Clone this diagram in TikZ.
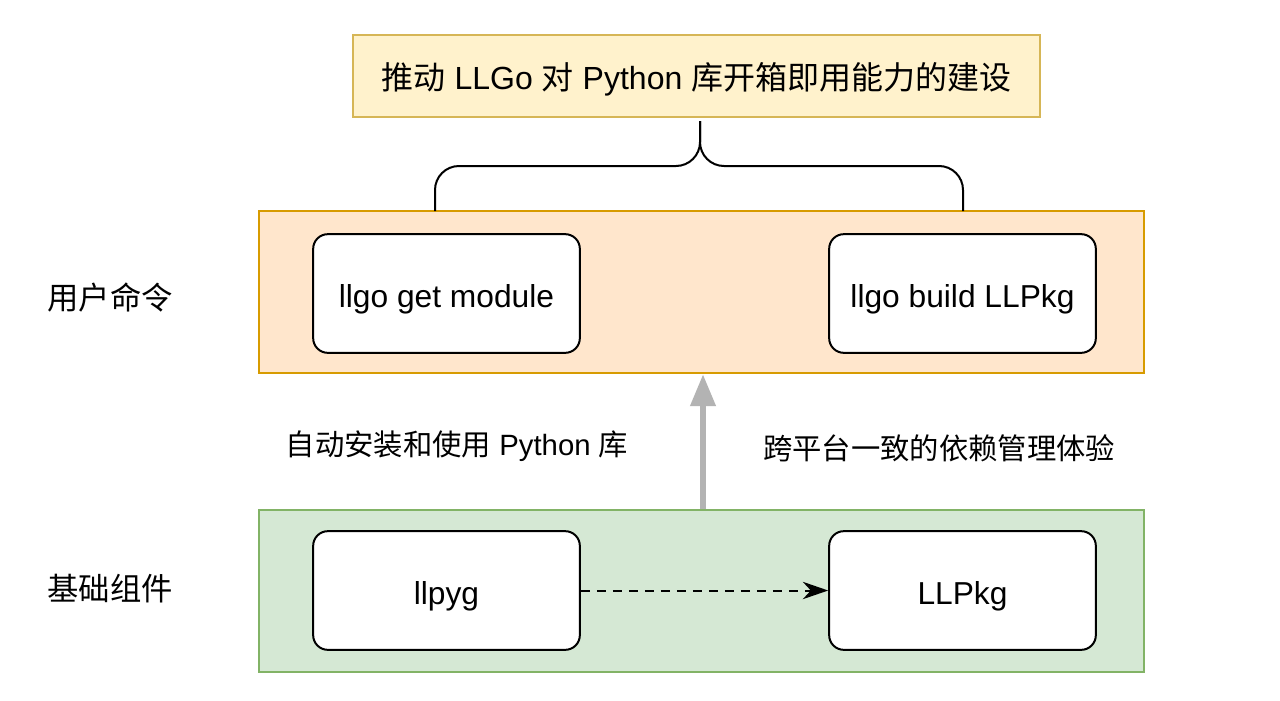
\documentclass[tikz,border=0pt]{standalone}
\usepackage{fontspec}
\setmainfont{Liberation Sans}
\newfontfamily\cjk{Noto Sans CJK SC}
\usetikzlibrary{arrows.meta}
\definecolor{ybg}{HTML}{FFF2CC}
\definecolor{yfr}{HTML}{D6B656}
\definecolor{obg}{HTML}{FFE6CC}
\definecolor{ofr}{HTML}{D79B00}
\definecolor{gbg}{HTML}{D5E8D4}
\definecolor{gfr}{HTML}{82B366}
\definecolor{arrgray}{HTML}{B3B3B3}
\newcommand\dnshift[2]{\raisebox{-#1}[\height][\depth]{#2}}
\tikzset{
  px/.style={x=0.75pt,y=-0.75pt},
  panel/.style={draw, line width=1.5pt, inner sep=0pt, minimum width=663.75pt, minimum height=121.5pt},
  inbox/.style={draw=black, fill=white, line width=1.5pt, rounded corners=11pt, minimum width=200pt, minimum height=89pt, inner sep=0pt, font=\fontsize{23.8}{28}\selectfont},
  sidelabel/.style={font=\fontsize{23.5}{28}\selectfont\cjk},
  midlabel/.style={font=\fontsize{22}{26}\selectfont},
}
\begin{document}
\begin{tikzpicture}[px]
\useasboundingbox (0,0) rectangle (1280,700);
\fill[white] (0,0) rectangle (1280,700);
% top goal box
\node[draw=yfr, fill=ybg, line width=1.5pt, minimum width=515pt, minimum height=61.5pt, inner sep=0pt,
      font=\fontsize{24}{28}\selectfont] (goal) at (696.5,76)
  {\dnshift{2.5pt}{{\cjk 推动} LLGo {\cjk 对} Python {\cjk 库开箱即用能力的建设}}};
% panels
\node[panel, draw=ofr, fill=obg] (cmd) at (701.5,292) {};
\node[panel, draw=gfr, fill=gbg] (base) at (701.5,591) {};
% inner boxes
\node[inbox] (get) at (446.5,293.5) {\dnshift{4pt}{llgo get module}};
\node[inbox] (build) at (962.5,293.5) {\dnshift{4pt}{llgo build LLPkg}};
\node[inbox] (llpyg) at (446.5,590.5) {\dnshift{4pt}{llpyg}};
\node[inbox] (llpkg) at (962.5,590.5) {\dnshift{4pt}{LLPkg}};
% side labels
\node[sidelabel] (l1) at (110,297) {用户命令};
\node[sidelabel] (l2) at (110,589) {基础组件};
% middle labels
\node[midlabel] (m1) at (457,446) {{\cjk 自动安装和使用} Python {\cjk 库}};
\node[midlabel, font=\fontsize{22}{26}\selectfont\cjk] (m2) at (939,448) {跨平台一致的依赖管理体验};
% brace
\coordinate (bl) at (435,211);
\coordinate (br) at (963,211);
\coordinate (bt) at (700,121);
\draw[line width=1.5pt, rounded corners=18pt, line join=round]
  (bl) |- (700,166) -- (bt);
\draw[line width=1.5pt, rounded corners=18pt, line join=round]
  (br) |- (700,166) -- (bt);
% gray arrow
\draw[arrgray, line width=5pt, -{Triangle[length=24pt,width=18pt]}] (base.north -| 703,0) -- (cmd.south -| 703,0);
% dashed arrow
\draw[line width=1.5pt, dash pattern=on 7pt off 5pt, -{Stealth[length=19pt,width=13pt,inset=6pt]}] (llpyg.east) -- (llpkg.west);
\end{tikzpicture}
\end{document}
